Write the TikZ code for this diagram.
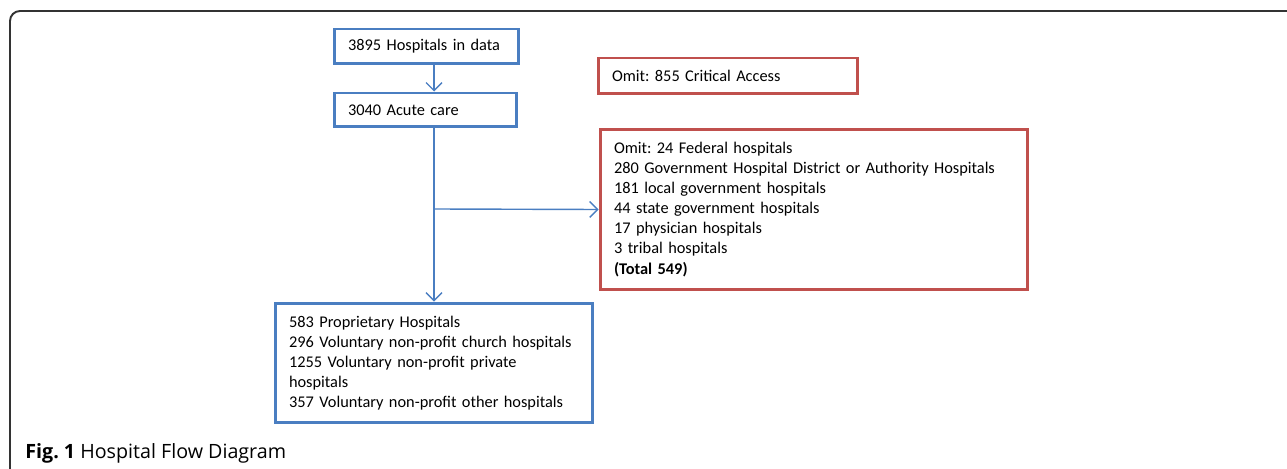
\documentclass[tikz,border=0pt]{standalone}
\usepackage{fontspec}
\setmainfont{Carlito}
\newfontfamily\capfont{Open Sans}
\usetikzlibrary{arrows.meta}
\frenchspacing
\definecolor{boxblue}{RGB}{74,126,193}
\definecolor{boxred}{RGB}{192,80,77}
\tikzset{
  flowbox/.style={draw, line width=1.7pt, inner xsep=0.28cm, align=left,
    font=\fontsize{9.3pt}{11.4pt}\selectfont},
  bluebox/.style={flowbox, draw=boxblue},
  redbox/.style={flowbox, draw=boxred},
  flowarrow/.style={boxblue, line width=0.8pt, -{Straight Barb[length=4.5pt,width=9pt]}}
}
\begin{document}
\begin{tikzpicture}[x=0.02cm, y=-0.02cm]
                \useasboundingbox (0, 0) rectangle (1287, 469);
                % outer frame
                \draw[line width=1.1pt, black!80] (10, 469) -- (10, 21) arc (180:270:10) -- (1287, 11);

                \node[bluebox, minimum width=3.7cm, minimum height=0.7cm, text width=3.14cm] (hosp) at (426.5, 46.5) {3895 Hospitals in data};
                \node[bluebox, minimum width=3.66cm, minimum height=0.68cm, text width=3.1cm] (acute) at (425.5, 110) {3040 Acute care};
                \node[bluebox, minimum width=6.36cm, minimum height=2.4cm, text width=5.8cm] (kept) at (434, 363) {583 Proprietary Hospitals\\
                  296 Voluntary non-profit church hospitals\\
                  1255 Voluntary non-profit private\\
                  hospitals\\
                  357 Voluntary non-profit other hospitals};

                \node[redbox, minimum width=5.2cm, minimum height=0.72cm, text width=4.64cm] (critical) at (728, 76) {Omit: 855 Critical Access};
                \node[redbox, minimum width=8.56cm, minimum height=3.22cm, text width=8cm] (omit) at (814, 209.5) {Omit: 24 Federal hospitals\\
                  280 Government Hospital District or Authority Hospitals\\
                  181 local government hospitals\\
                  44 state government hospitals\\
                  17 physician hospitals\\
                  3 tribal hospitals\\
                  \textbf{(Total 549)}};

                \coordinate (split) at (434, 209);
                \draw[flowarrow] (hosp.south -| split) -- (acute.north -| split);
                \draw[flowarrow] (acute.south -| split) -- (kept.north -| split);
                \draw[flowarrow] (split) -- (omit.west);

                \node[anchor=base west, inner sep=0, font=\capfont\fontsize{11.2pt}{13pt}\selectfont] (caption) at (25, 458) {\textbf{Fig. 1} Hospital Flow Diagram};
            \end{tikzpicture}
\end{document}
